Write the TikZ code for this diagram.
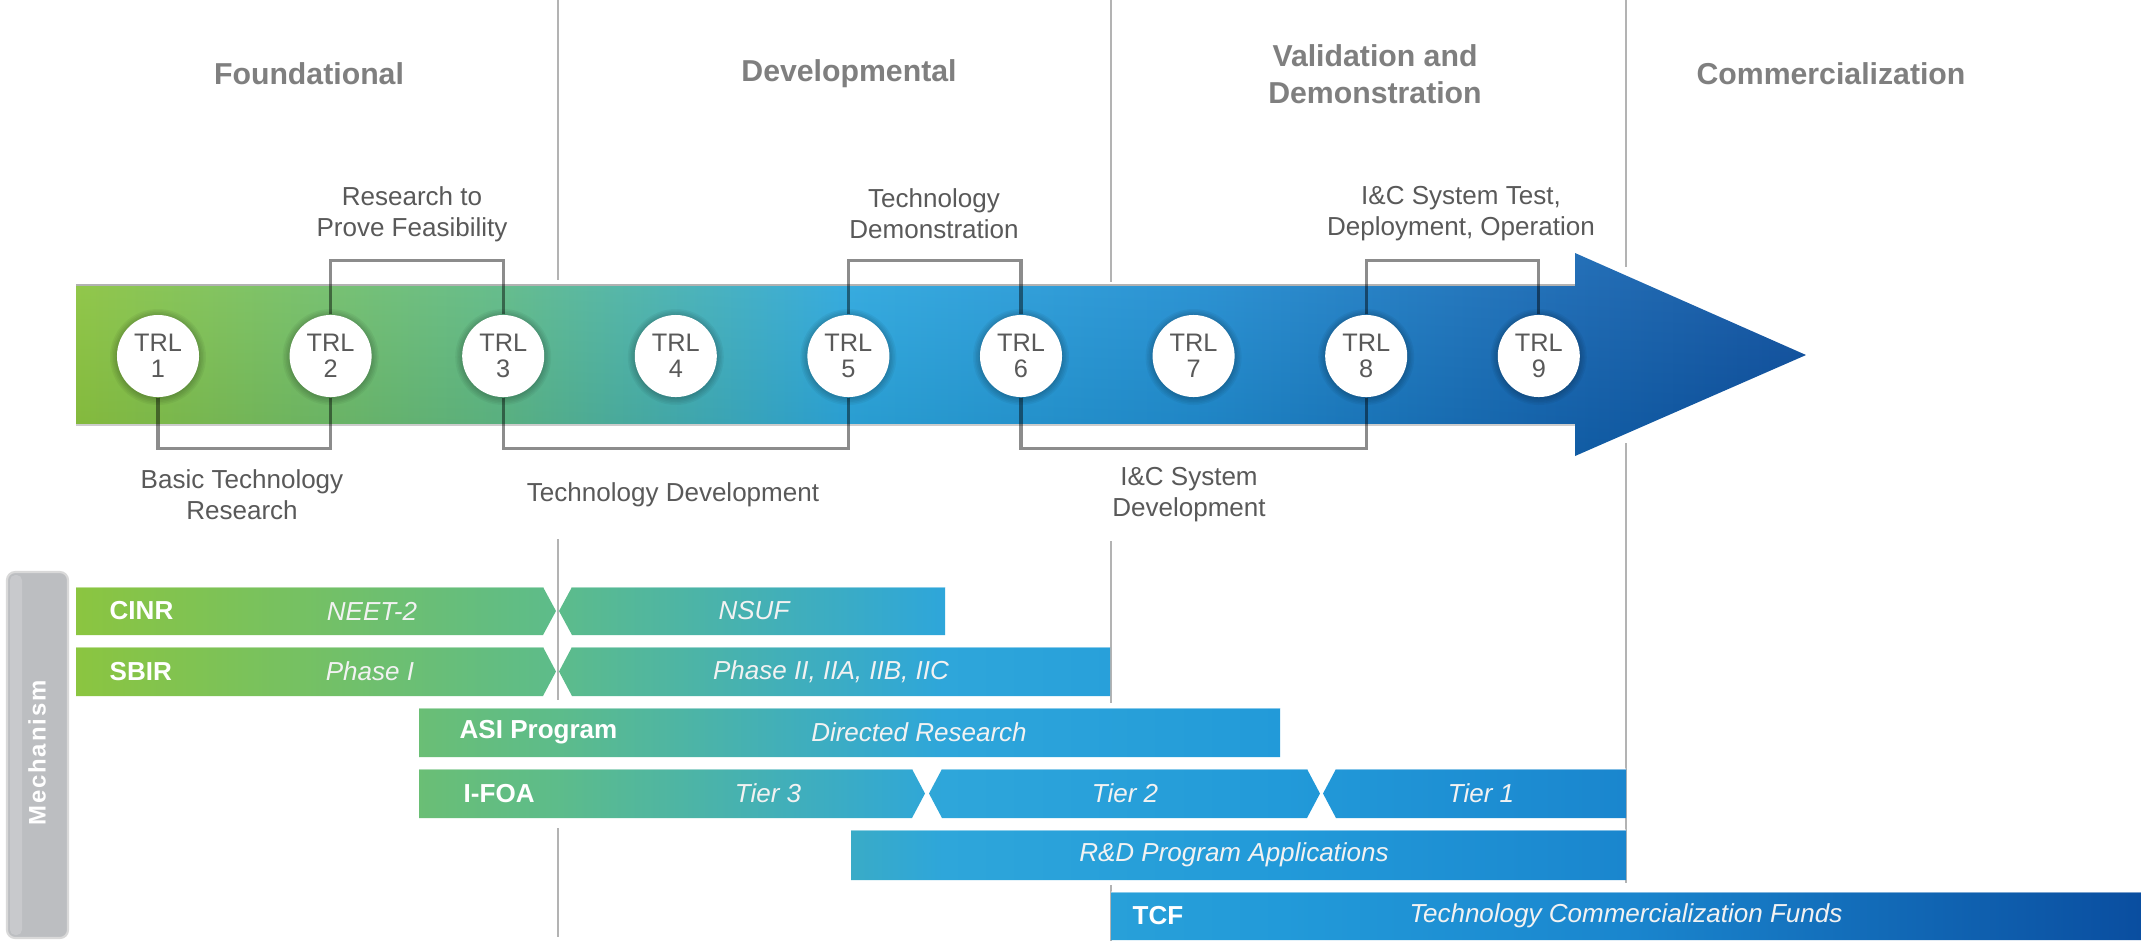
\documentclass[tikz,border=0pt]{standalone}
\usepackage{fontspec}
\setmainfont{Liberation Sans}
\newfontfamily\mechfont[LetterSpace=8]{Liberation Sans}
\usetikzlibrary{calc}
\definecolor{ga1}{HTML}{8CC63F}
\definecolor{ga2}{HTML}{5DBB88}
\definecolor{ga3}{HTML}{2AA8E0}
\definecolor{ga4}{HTML}{1F8ED3}
\definecolor{ga5}{HTML}{1468B5}
\definecolor{ga6}{HTML}{0B4FA0}
\definecolor{gb1}{HTML}{8BC540}
\definecolor{gb2}{HTML}{5DBC8A}
\definecolor{gb3}{HTML}{2EA6DA}
\definecolor{gb4}{HTML}{229AD9}
\definecolor{gb5}{HTML}{1A86CE}
\definecolor{gb6}{HTML}{0A4EA0}
\definecolor{headgray}{HTML}{7F7F7F}
\definecolor{labgray}{HTML}{595959}
\definecolor{divgray}{HTML}{B3B3B3}
\definecolor{mechgray}{HTML}{BCBEC1}
\pgfdeclarehorizontalshading{arrowshade}{100bp}{color(0bp)=(ga1); color(25bp)=(ga1); color(37.4bp)=(ga2); color(47.3bp)=(ga3); color(57.3bp)=(ga4); color(67.3bp)=(ga5); color(75bp)=(ga6); color(100bp)=(ga6)}
\pgfdeclarehorizontalshading{barshade}{100bp}{color(0bp)=(gb1); color(25bp)=(gb1); color(36.6bp)=(gb2); color(46bp)=(gb3); color(54.2bp)=(gb4); color(62.5bp)=(gb5); color(75bp)=(gb6); color(100bp)=(gb6)}
\tikzset{
  head/.style={font=\fontsize{8.6}{10.5}\selectfont\bfseries, text=headgray, align=center},
  lab/.style={font=\fontsize{7.4}{8.8}\selectfont, text=labgray, align=center},
  trl/.style={circle, fill=white, minimum size=0.82cm, inner sep=0pt, align=center,
              font=\fontsize{7.2}{7.5}\selectfont, text=labgray},
  bracket/.style={draw=black, draw opacity=0.45, line width=0.9pt},
  divider/.style={draw=divgray, line width=0.75pt},
  barname/.style={font=\fontsize{7.4}{8}\selectfont\bfseries, text=white, anchor=west, inner sep=0pt},
  barit/.style={font=\fontsize{7.4}{8}\selectfont\itshape, text=white!90!gray, inner sep=0pt},
  baredge/.style={draw=white, draw opacity=0.45, line width=0.35pt}
}
\begin{document}
\begin{tikzpicture}[x=0.01cm, y=-0.01cm]
\useasboundingbox (0,0) rectangle (2141,941);
\fill[white] (0,0) rectangle (2141,941);

% dividers
\draw[divider] (558,0) -- (558,280);
\draw[divider] (558,539) -- (558,700);
\draw[divider] (558,828) -- (558,937);
\draw[divider] (1111,0) -- (1111,282);
\draw[divider] (1111,541) -- (1111,703);
\draw[divider] (1111,885) -- (1111,941);
\draw[divider] (1626,0) -- (1626,267);
\draw[divider] (1626,443) -- (1626,883);

% headings
\node[head] (hfound) at (309,74) {Foundational};
\node[head] (hdev) at (849,74) {Developmental};
\node[head] (hval) at (1375,74) {Validation and\\Demonstration};
\node[head] (hcom) at (1831,74) {Commercialization};

% big arrow
\begin{scope}
\clip (76,285) -- (1575,285) -- (1575,253) -- (1806,355) -- (1575,456) -- (1575,425) -- (76,425) -- cycle;
\shade[shading=arrowshade] (76,253) rectangle (1806,456);
\shade[top color=white, bottom color=black, opacity=0.08] (76,253) rectangle (1806,456);
\end{scope}
\draw[draw=gray!60, line width=0.4pt] (76,285) -- (1575,285);
\draw[draw=gray!40, line width=0.4pt] (76,425) -- (1575,425);

% circle shadows
\foreach \i in {1,...,9}{
  \foreach \r in {42,43.5,45,46.5,48}{
    \fill[black, opacity=0.045] ({158+172.6*(\i-1)},357) circle (\r);
  }
}
% TRL circles
\foreach \i in {1,...,9}{
  \node[trl] (t\i) at ({158+172.6*(\i-1)},356) {TRL\\\i};
}

% brackets
\draw[bracket] (t1.south) -- ++(0,51) -| (t2.south);
\draw[bracket] (t2.north) -- ++(0,-54) -| (t3.north);
\draw[bracket] (t3.south) -- ++(0,51) -| (t5.south);
\draw[bracket] (t5.north) -- ++(0,-54) -| (t6.north);
\draw[bracket] (t6.south) -- ++(0,51) -| (t8.south);
\draw[bracket] (t8.north) -- ++(0,-54) -| (t9.north);

% labels
\node[lab] (lres) at (412,214) {Research to\\Prove Feasibility};
\node[lab] (ldemo) at (934,214) {Technology\\Demonstration};
\node[lab] (ltest) at (1461,214) {I\&C System Test,\\Deployment, Operation};
\node[lab] (lbasic) at (242,495) {Basic Technology\\Research};
\node[lab] (ltdev) at (673,495) {Technology Development};
\node[lab] (lsys) at (1189,495) {I\&C System\\Development};

% mechanism box
\filldraw[fill=mechgray, draw=gray!30, line width=0.6pt, rounded corners=2.3pt] (7,572) rectangle (68,938);
\fill[white, opacity=0.18, rounded corners=1.5pt] (10,575) rectangle (22,935);
\node[rotate=90, font=\mechfont\fontsize{6.8}{8}\selectfont\bfseries, text=white] (mech) at (37,753) {Mechanism};

% bars
\begin{scope}
\clip (76,587) -- (543,587) -- (556,611) -- (543,635) -- (76,635) -- cycle
      (572,587) -- (945,587) -- (945,635) -- (572,635) -- (559,611) -- cycle
      (76,647) -- (543,647) -- (556,671.5) -- (543,696) -- (76,696) -- cycle
      (572,647) -- (1110,647) -- (1110,696) -- (572,696) -- (559,671.5) -- cycle
      (419,708) -- (1280,708) -- (1280,757) -- (419,757) -- cycle
      (419,769) -- (912,769) -- (925,793.5) -- (912,818) -- (419,818) -- cycle
      (942,769) -- (1307,769) -- (1320,793.5) -- (1307,818) -- (942,818) -- (929,793.5) -- cycle
      (1336,769) -- (1626,769) -- (1626,818) -- (1336,818) -- (1323,793.5) -- cycle
      (851,830) -- (1626,830) -- (1626,880) -- (851,880) -- cycle
      (1111,892) -- (2141,892) -- (2141,940) -- (1111,940) -- cycle;
\shade[shading=barshade] (76,580) rectangle (2141,945);
\end{scope}
\draw[baredge] (76,587) -- (543,587) (572,587) -- (945,587)
  (76,647) -- (543,647) (572,647) -- (1110,647)
  (419,708) -- (1280,708) (419,769) -- (912,769) (942,769) -- (1307,769) (1336,769) -- (1626,769)
  (851,830) -- (1626,830) (1111,892) -- (2141,892);

% bar texts
\node[barname] (cinr) at (109,611) {CINR};
\node[barit] (neet) at (372,611) {NEET-2};
\node[barit] (nsuf) at (754,611) {NSUF};
\node[barname] (sbir) at (109,671.5) {SBIR};
\node[barit] (ph1) at (370,671.5) {Phase I};
\node[barit] (ph2) at (831,671.5) {Phase II, IIA, IIB, IIC};
\node[barname] (asi) at (459,732.5) {ASI Program};
\node[barit] (dirres) at (919,732.5) {Directed Research};
\node[barname] (ifoa) at (463,793.5) {I-FOA};
\node[barit] (tier3) at (768,793.5) {Tier 3};
\node[barit] (tier2) at (1125,793.5) {Tier 2};
\node[barit] (tier1) at (1481,793.5) {Tier 1};
\node[barit] (rdapp) at (1234,855) {R\&D Program Applications};
\node[barname] (tcf) at (1132,916) {TCF};
\node[barit] (tcfunds) at (1626,916) {Technology Commercialization Funds};
\end{tikzpicture}
\end{document}
